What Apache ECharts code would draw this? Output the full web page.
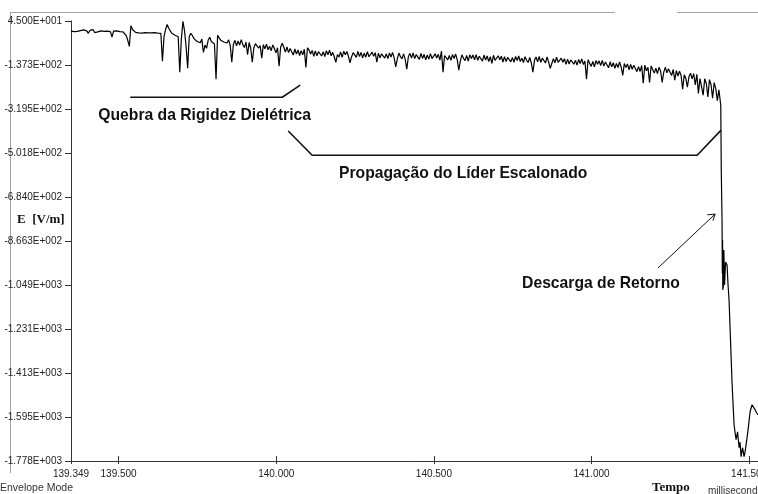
<!DOCTYPE html>
<html><head><meta charset="utf-8">
<script src="https://cdn.jsdelivr.net/npm/echarts@6/dist/echarts.min.js"></script>
<style>html,body{margin:0;padding:0;background:#fff}#c{width:758px;height:494px}</style>
</head><body><div id="c"></div>
<script>
// Electric field record (V/m) before the return stroke, sampled every sampleStep ms
const sampleStart = 139.349;
const sampleStep = 0.005;
const preStrokeField = [
  3, 5, 1, 4, 2, -4, 5, 3, 8, 2,
  4, -6, 6, 1, 9, -3, 5, 0, -8, 4,
  6, 2, -5, 3, 4, 1, -22, 3, 2, 4,
  3, 1, 2, 0, -6, -15, -35, -60, 25, 10,
  2, -2, -3, -4, -3, -5, -4, -3, -5, -4,
  -5, -4, -6, -3, -8, -5, -12, -6, -122, -20,
  10, 31, 15, 4, -6, -2, -14, -9, -20, -167,
  -30, 44, 5, -60, -151, -20, -6, -15, -28, -22,
  -40, -33, -45, -30, -85, -55, -68, -35, -22, -40,
  -45, -50, -196, -14, -25, -35, -30, -42, -38, -46,
  -33, -56, -126, -52, -35, -58, -38, -55, -32, -53,
  -65, -42, -95, -44, -68, -126, -66, -49, -41, -67,
  -57, -109, -53, -70, -51, -74, -60, -78, -54, -69,
  -87, -66, -142, -63, -47, -64, -84, -62, -86, -69,
  -73, -96, -71, -92, -75, -98, -78, -95, -72, -147,
  -66, -75, -92, -77, -101, -79, -99, -82, -74, -100,
  -82, -102, -78, -95, -76, -99, -85, -103, -126, -94,
  -104, -83, -106, -80, -95, -81, -101, -128, -103, -86,
  -83, -106, -81, -102, -85, -108, -88, -105, -82, -103,
  -107, -84, -101, -86, -126, -88, -108, -91, -83, -109,
  -91, -111, -87, -104, -85, -108, -145, -112, -88, -103,
  -112, -91, -114, -155, -103, -89, -109, -87, -111, -94,
  -91, -114, -89, -110, -93, -116, -96, -113, -90, -111,
  -114, -91, -108, -93, -117, -80, -167, -98, -90, -116,
  -98, -118, -94, -111, -92, -115, -159, -119, -95, -110,
  -119, -98, -121, -95, -110, -96, -116, -94, -118, -101,
  -98, -121, -96, -117, -100, -123, -103, -131, -97, -118,
  -122, -99, -116, -101, -125, -103, -123, -106, -98, -124,
  -106, -126, -102, -119, -100, -123, -109, -127, -103, -118,
  -127, -106, -129, -167, -118, -104, -124, -102, -126, -109,
  -106, -129, -104, -125, -151, -131, -111, -128, -105, -126,
  -132, -109, -126, -111, -135, -113, -133, -116, -108, -134,
  -118, -138, -114, -131, -112, -135, -121, -196, -115, -130,
  -143, -122, -145, -119, -134, -120, -140, -118, -142, -125,
  -126, -149, -124, -145, -128, -151, -131, -148, -125, -146,
  -180, -131, -148, -133, -157, -135, -155, -138, -130, -165,
  -144, -164, -140, -213, -138, -161, -147, -210, -141, -156,
  -171, -150, -173, -147, -162, -209, -168, -146, -170, -153,
  -158, -181, -156, -200, -160, -183, -163, -180, -238, -178,
  -192, -229, -186, -171, -195, -173, -220, -176, -255, -194,
  -188, -262, -194, -214, -270, -198, -218, -275, -210, -235,
  -285, -240
];
// Return stroke portion (irregular time points, ms) and field (V/m)
const strokeTimes = [141.4099, 141.4115, 141.4140, 141.4148, 141.4156, 141.4164, 141.4172, 141.4180, 141.4197, 141.4219, 141.4251, 141.4299, 141.4330, 141.4362, 141.4457, 141.4521, 141.4584, 141.4632, 141.4680, 141.4711, 141.4743, 141.4775, 141.4791, 141.4838, 141.4870, 141.4902, 141.4965, 141.5029, 141.5092, 141.5140, 141.5188, 141.5235, 141.5283];
const strokeField = [-304, -573, -788, -1000, -862, -1069, -930, -1060, -904, -1049, -954, -966, -1049, -1111, -1454, -1628, -1690, -1657, -1723, -1700, -1760, -1735, -1723, -1760, -1740, -1711, -1649, -1574, -1545, -1541, -1566, -1578, -1587];

const xTickValues = [139.349, 139.5, 140.0, 140.5, 141.0, 141.5];
const yTickLabels = ['4.500E+001', '-1.373E+002', '-3.195E+002', '-5.018E+002', '-6.840E+002', '-8.663E+002', '-1.049E+003', '-1.231E+003', '-1.413E+003', '-1.595E+003', '-1.778E+003'];
const yTickValues = yTickLabels.map(Number);

// annotations, in data coordinates (ms, V/m)
const quebraBracket = [[139.537, -271], [140.019, -271], [140.076, -221]];
const liderBracket = [[140.038, -411], [140.114, -511], [141.335, -511], [141.411, -407]];
const retornoArrow = [[141.211, -978], [141.392, -755]];
const retornoArrowHead = [[141.367, -758], [141.392, -755], [141.385, -782]];
const annotationTexts = ['Quebra da Rigidez Dielétrica', 'Propagação do Líder Escalonado', 'Descarga de Retorno'];
const annotationAnchors = [[139.773, -349], [140.593, -586], [141.030, -1044]];

const X_MIN = 139.349, X_MAX = 141.528, Y_MIN = -1778, Y_MAX = 45;

const curve = preStrokeField.map((v, i) => [sampleStart + i * sampleStep, v])
  .concat(strokeTimes.map((t, i) => [t, strokeField[i]]));

const axisFont = "'Liberation Sans', Arial, sans-serif";
const chart = echarts.init(document.getElementById('c'), null, {renderer: 'canvas'});

function annotSeries(data, width) {
  return {type: 'line', data: data, showSymbol: false, symbol: 'none', silent: true,
    lineStyle: {color: '#111', width: width}, z: 3, animation: false};
}

chart.setOption({
  animation: false,
  backgroundColor: '#fff',
  grid: {left: 71, right: 0, top: 21, bottom: 33, containLabel: false, outerBoundsMode: 'none'},
  xAxis: [{
    type: 'value', min: X_MIN, max: X_MAX,
    axisLine: {show: true, onZero: false, lineStyle: {color: '#333', width: 1}},
    axisTick: {show: true, customValues: xTickValues, length: 3, lineStyle: {color: '#333'}},
    axisLabel: {customValues: xTickValues, formatter: v => v.toFixed(3), color: '#222',
      fontSize: 10, fontFamily: axisFont, margin: 8, hideOverlap: false},
    splitLine: {show: false}
  }, {
    type: 'value', min: X_MIN, max: X_MAX, position: 'bottom',
    axisLine: {show: false, onZero: false},
    axisTick: {show: true, inside: true, customValues: xTickValues, length: 5, lineStyle: {color: '#333'}},
    axisLabel: {show: false}, splitLine: {show: false}
  }],
  yAxis: {
    type: 'value', min: Y_MIN, max: Y_MAX,
    axisLine: {show: true, onZero: false, lineStyle: {color: '#333', width: 1}},
    axisTick: {show: true, customValues: yTickValues, length: 6, lineStyle: {color: '#333'}},
    axisLabel: {customValues: yTickValues, color: '#222', fontSize: 10, fontFamily: axisFont, margin: 9,
      formatter: v => {
        let best = 0;
        yTickValues.forEach((t, i) => { if (Math.abs(t - v) < Math.abs(yTickValues[best] - v)) best = i; });
        return yTickLabels[best];
      }},
    splitLine: {show: false}
  },
  series: [
    {type: 'line', data: curve, showSymbol: false, symbol: 'none', sampling: null,
      lineStyle: {color: '#000', width: 1.2}, z: 2, animation: false, silent: true},
    annotSeries(quebraBracket, 1.6),
    annotSeries(liderBracket, 1.6),
    annotSeries(retornoArrow, 1),
    annotSeries(retornoArrowHead, 1)
  ]
});

const toPx = p => chart.convertToPixel({xAxisIndex: 0, yAxisIndex: 0}, p);
const graphics = [
  {type: 'line', shape: {x1: 10, y1: 12.5, x2: 615, y2: 12.5}, style: {stroke: '#a0a0a0', lineWidth: 1}, silent: true},
  {type: 'line', shape: {x1: 677, y1: 12.5, x2: 758, y2: 12.5}, style: {stroke: '#a0a0a0', lineWidth: 1}, silent: true},
  {type: 'line', shape: {x1: 10.5, y1: 12.5, x2: 10.5, y2: 473}, style: {stroke: '#a0a0a0', lineWidth: 1}, silent: true},
  {type: 'text', x: 17, y: 220, style: {text: 'E  [V/m]', fill: '#111', font: "bold 13px 'Liberation Serif', 'Times New Roman', serif", align: 'left', verticalAlign: 'middle'}, silent: true},
  {type: 'text', x: 652, y: 488, style: {text: 'Tempo', fill: '#111', font: "bold 13px 'Liberation Serif', 'Times New Roman', serif", align: 'left', verticalAlign: 'middle'}, silent: true},
  {type: 'text', x: 708, y: 491, style: {text: 'milliseconds', fill: '#333', font: "10px 'Liberation Sans', Arial, sans-serif", align: 'left', verticalAlign: 'middle'}, silent: true},
  {type: 'text', x: 0, y: 488, style: {text: 'Envelope Mode', fill: '#333', font: "10.5px " + axisFont, align: 'left', verticalAlign: 'middle'}, silent: true}
];
annotationTexts.forEach((txt, i) => {
  const p = toPx(annotationAnchors[i]);
  graphics.push({type: 'text', x: p[0], y: p[1], silent: true,
    style: {text: txt, fill: '#111', font: "bold 15.7px 'Liberation Sans', Arial, sans-serif", align: 'center', verticalAlign: 'middle'}});
});
chart.setOption({graphic: graphics});
</script>
</body></html>
